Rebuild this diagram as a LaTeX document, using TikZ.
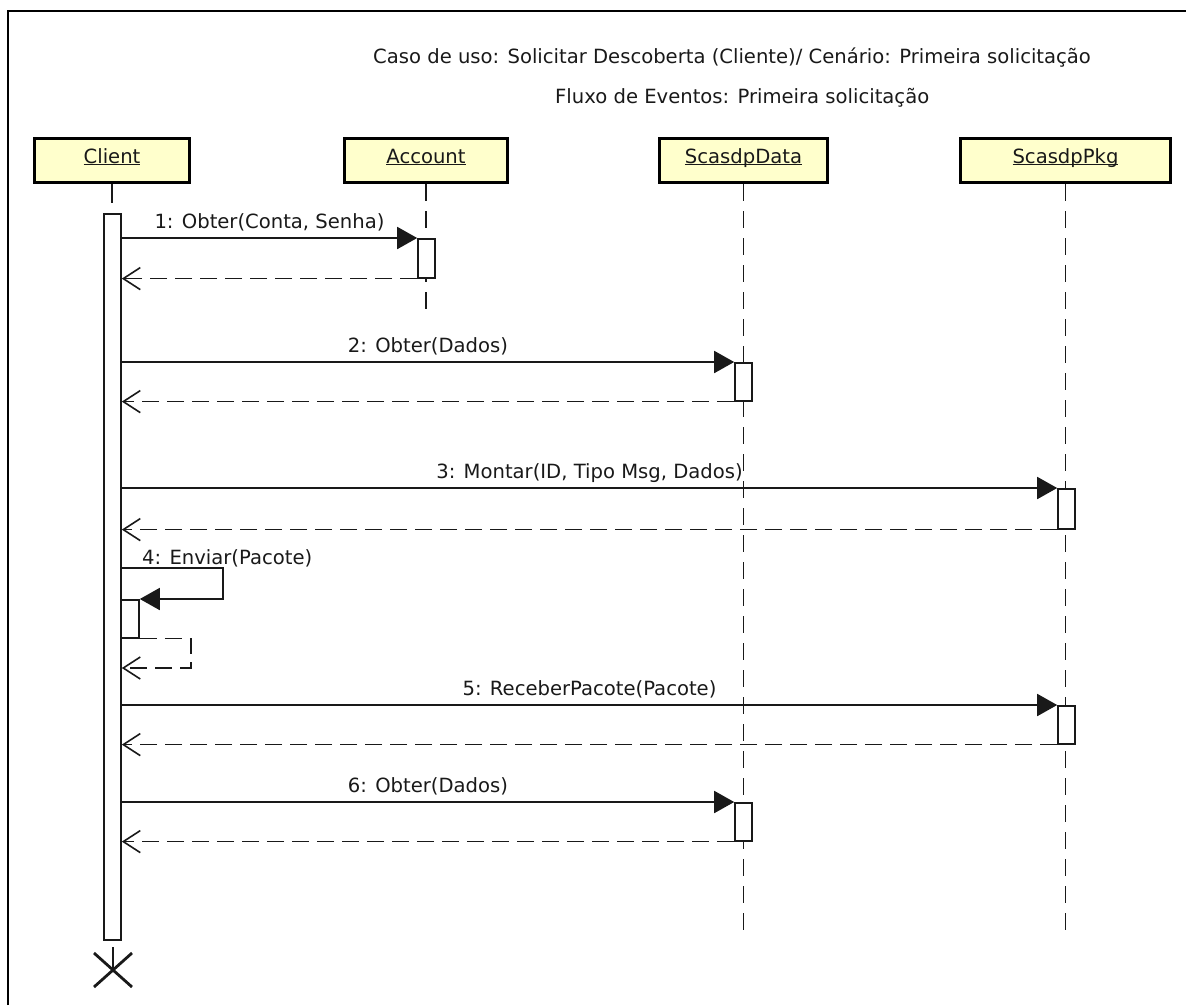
\documentclass[tikz,border=0pt]{standalone}
\usepackage{fontspec}
\setmainfont{DejaVu Sans}
\usetikzlibrary{arrows.meta}
\definecolor{objfill}{RGB}{255,255,204}
\definecolor{ink}{RGB}{25,25,25}
\newcommand\objname[1]{\underline{\smash{#1}}}
\begin{document}
\begin{tikzpicture}[x=1pt,y=-1pt,
  every node/.style={font=\fontsize{19.6}{23}\selectfont, text=ink},
  txt/.style={inner sep=0pt},
  objbox/.style={draw=black, line width=3.4pt, fill=objfill, minimum height=44pt,
    inner sep=0pt, text height=10pt, text depth=5pt},
  actbar/.style={draw=ink, fill=white, line width=1.6pt, minimum width=17pt,
    inner sep=0pt, anchor=north},
  life/.style={draw=ink, line width=1.6pt, dash pattern=on 17pt off 10pt},
  msg/.style={draw=ink, line width=1.8pt, -{Triangle[length=20pt,width=22pt]}},
  ret/.style={draw=ink, line width=1.6pt, dash pattern=on 17pt off 8pt,
    -{Straight Barb[length=17pt,width=22pt,line width=1.6pt]}},
  lbl/.style={inner sep=0pt, anchor=base, yshift=10pt, midway},
]
\useasboundingbox (0,0) rectangle (1186,1005);

% frame
\draw[line width=2.6pt] (8,1005) -- (8,11) -- (1186,11);

% headings
\node[txt, anchor=base west] (title1) at (373,63)
  {Caso de uso: Solicitar Descoberta (Cliente)/ Cenário: Primeira solicitação};
\node[txt, anchor=base west] (title2) at (555,103)
  {Fluxo de Eventos: Primeira solicitação};

% objects
\node[objbox, minimum width=155pt] (client) at (112,160.5) {\objname{Client}};
\node[objbox, minimum width=163pt] (account) at (426,160.5) {\objname{Account}};
\node[objbox, minimum width=168pt] (data) at (743.5,160.5) {\objname{ScasdpData}};
\node[objbox, minimum width=210pt] (pkg) at (1065.5,160.5) {\objname{ScasdpPkg}};

% lifelines
\coordinate (aend) at (426,315);
\coordinate (dend) at (743.5,930);
\coordinate (pend) at (1065.5,930);
\draw[draw=ink, line width=1.6pt] (client.south) -- ++(0,19);
\draw[life] (account.south) -- (aend);
\draw[life] (data.south) -- (dend);
\draw[life] (pkg.south) -- (pend);

% activation bars
\node[actbar, minimum height=726pt] (cbar) at (112.5,213) {};
\node[actbar, minimum height=39pt] (aact) at (426.5,238) {};
\node[actbar, minimum height=38pt] (dact1) at (743.5,362) {};
\node[actbar, minimum height=40pt] (pact1) at (1066.5,488) {};
\node[actbar, minimum height=38pt, minimum width=18pt] (nest) at (130,599) {};
\node[actbar, minimum height=38pt] (pact2) at (1066.5,705) {};
\node[actbar, minimum height=38pt] (dact2) at (743.5,802) {};

% 1
\draw[msg] (cbar.east |- aact.north) -- (aact.north west)
  node[lbl] (l1) {1: Obter(Conta, Senha)};
\draw[ret] (aact.south west) -- (cbar.east |- aact.south);
% 2
\draw[msg] (cbar.east |- dact1.north) -- (dact1.north west)
  node[lbl] (l2) {2: Obter(Dados)};
\draw[ret] (dact1.south west) -- (cbar.east |- dact1.south);
% 3
\draw[msg] (cbar.east |- pact1.north) -- (pact1.north west)
  node[lbl] (l3) {3: Montar(ID, Tipo Msg, Dados)};
\draw[ret] (pact1.south west) -- (cbar.east |- pact1.south);
% 4 (self call)
\coordinate (s4a) at (223,568);
\coordinate (s4b) at (191,668);
\node[txt, anchor=base west] (l4) at (142,564) {4: Enviar(Pacote)};
\draw[msg] (cbar.east |- s4a) -- (s4a) |- (nest.north east);
\draw[ret] (nest.south east) -| (s4b) -- (cbar.east |- s4b);
% 5
\draw[msg] (cbar.east |- pact2.north) -- (pact2.north west)
  node[lbl] (l5) {5: ReceberPacote(Pacote)};
\draw[ret] (pact2.south west) -- (cbar.east |- pact2.south);
% 6
\draw[msg] (cbar.east |- dact2.north) -- (dact2.north west)
  node[lbl] (l6) {6: Obter(Dados)};
\draw[ret] (dact2.south west) -- (cbar.east |- dact2.south);

% destruction mark
\coordinate (xc) at (113,970);
\draw[draw=ink, line width=1.4pt] (xc) -- ++(0,-23);
\draw[draw=ink, line width=2.8pt] (xc) ++(-19,-17) -- ++(38,34);
\draw[draw=ink, line width=2.8pt] (xc) ++(-19,17) -- ++(38,-34);
\end{tikzpicture}
\end{document}
